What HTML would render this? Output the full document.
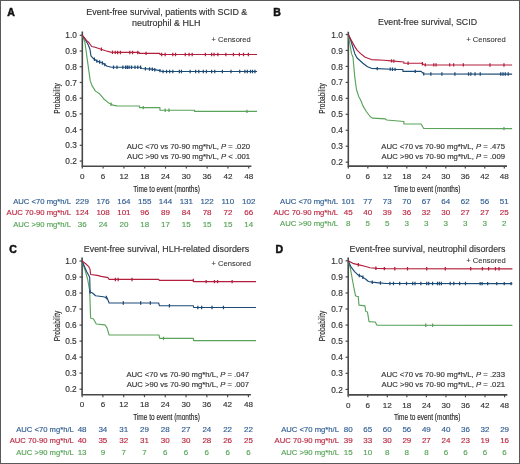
<!DOCTYPE html>
<html><head><meta charset="utf-8"><style>
html,body{margin:0;padding:0;background:#fff;}
svg{display:block;font-family:"Liberation Sans", sans-serif;}
#m{will-change:transform;}
#b{position:absolute;left:0;top:0;}
</style></head><body>
<svg id="m" width="520" height="464" viewBox="0 0 520 464">
<rect x="0" y="0" width="520" height="464" fill="#fff"/>
<path d="M82.30 31.50V166.20H251.40" fill="none" stroke="#484848" stroke-width="1.6"/>
<line x1="79.70" y1="161.06" x2="82.30" y2="161.06" stroke="#484848" stroke-width="1.2"/>
<text stroke="#333" stroke-width="0.15" x="76.90" y="164.16" text-anchor="end" font-size="8.3" fill="#333">0.2</text>
<line x1="79.70" y1="145.34" x2="82.30" y2="145.34" stroke="#484848" stroke-width="1.2"/>
<text stroke="#333" stroke-width="0.15" x="76.90" y="148.44" text-anchor="end" font-size="8.3" fill="#333">0.3</text>
<line x1="79.70" y1="129.62" x2="82.30" y2="129.62" stroke="#484848" stroke-width="1.2"/>
<text stroke="#333" stroke-width="0.15" x="76.90" y="132.72" text-anchor="end" font-size="8.3" fill="#333">0.4</text>
<line x1="79.70" y1="113.90" x2="82.30" y2="113.90" stroke="#484848" stroke-width="1.2"/>
<text stroke="#333" stroke-width="0.15" x="76.90" y="117.00" text-anchor="end" font-size="8.3" fill="#333">0.5</text>
<line x1="79.70" y1="98.18" x2="82.30" y2="98.18" stroke="#484848" stroke-width="1.2"/>
<text stroke="#333" stroke-width="0.15" x="76.90" y="101.28" text-anchor="end" font-size="8.3" fill="#333">0.6</text>
<line x1="79.70" y1="82.46" x2="82.30" y2="82.46" stroke="#484848" stroke-width="1.2"/>
<text stroke="#333" stroke-width="0.15" x="76.90" y="85.56" text-anchor="end" font-size="8.3" fill="#333">0.7</text>
<line x1="79.70" y1="66.74" x2="82.30" y2="66.74" stroke="#484848" stroke-width="1.2"/>
<text stroke="#333" stroke-width="0.15" x="76.90" y="69.84" text-anchor="end" font-size="8.3" fill="#333">0.8</text>
<line x1="79.70" y1="51.02" x2="82.30" y2="51.02" stroke="#484848" stroke-width="1.2"/>
<text stroke="#333" stroke-width="0.15" x="76.90" y="54.12" text-anchor="end" font-size="8.3" fill="#333">0.9</text>
<line x1="79.70" y1="35.30" x2="82.30" y2="35.30" stroke="#484848" stroke-width="1.2"/>
<text stroke="#333" stroke-width="0.15" x="76.90" y="38.40" text-anchor="end" font-size="8.3" fill="#333">1.0</text>
<line x1="82.30" y1="166.20" x2="82.30" y2="168.60" stroke="#484848" stroke-width="1.2"/>
<text stroke="#333" stroke-width="0.15" x="82.30" y="178.80" text-anchor="middle" font-size="8.1" fill="#333">0</text>
<line x1="103.10" y1="166.20" x2="103.10" y2="168.60" stroke="#484848" stroke-width="1.2"/>
<text stroke="#333" stroke-width="0.15" x="103.10" y="178.80" text-anchor="middle" font-size="8.1" fill="#333">6</text>
<line x1="123.90" y1="166.20" x2="123.90" y2="168.60" stroke="#484848" stroke-width="1.2"/>
<text stroke="#333" stroke-width="0.15" x="123.90" y="178.80" text-anchor="middle" font-size="8.1" fill="#333">12</text>
<line x1="144.71" y1="166.20" x2="144.71" y2="168.60" stroke="#484848" stroke-width="1.2"/>
<text stroke="#333" stroke-width="0.15" x="144.71" y="178.80" text-anchor="middle" font-size="8.1" fill="#333">18</text>
<line x1="165.51" y1="166.20" x2="165.51" y2="168.60" stroke="#484848" stroke-width="1.2"/>
<text stroke="#333" stroke-width="0.15" x="165.51" y="178.80" text-anchor="middle" font-size="8.1" fill="#333">24</text>
<line x1="186.31" y1="166.20" x2="186.31" y2="168.60" stroke="#484848" stroke-width="1.2"/>
<text stroke="#333" stroke-width="0.15" x="186.31" y="178.80" text-anchor="middle" font-size="8.1" fill="#333">30</text>
<line x1="207.11" y1="166.20" x2="207.11" y2="168.60" stroke="#484848" stroke-width="1.2"/>
<text stroke="#333" stroke-width="0.15" x="207.11" y="178.80" text-anchor="middle" font-size="8.1" fill="#333">36</text>
<line x1="227.91" y1="166.20" x2="227.91" y2="168.60" stroke="#484848" stroke-width="1.2"/>
<text stroke="#333" stroke-width="0.15" x="227.91" y="178.80" text-anchor="middle" font-size="8.1" fill="#333">42</text>
<line x1="248.72" y1="166.20" x2="248.72" y2="168.60" stroke="#484848" stroke-width="1.2"/>
<text stroke="#333" stroke-width="0.15" x="248.72" y="178.80" text-anchor="middle" font-size="8.1" fill="#333">48</text>
<text stroke="#111" stroke-width="0.5" x="7.2" y="15.6" font-size="10.5" font-weight="bold" fill="#111">A</text>
<text stroke="#333" stroke-width="0.15" x="166.8" y="14.8" text-anchor="middle" font-size="9" fill="#333" textLength="161" lengthAdjust="spacingAndGlyphs">Event-free survival, patients with SCID &</text>
<text stroke="#333" stroke-width="0.15" x="166.2" y="25.6" text-anchor="middle" font-size="9" fill="#333" textLength="68.5" lengthAdjust="spacingAndGlyphs">neutrophil &amp; HLH</text>
<text stroke="#333" stroke-width="0.08" x="211.6" y="41.6" font-size="8.0" fill="#333" textLength="39.1" lengthAdjust="spacingAndGlyphs">+ Censored</text>
<text stroke="#333" stroke-width="0.15" x="126.7" y="148.6" font-size="7.75" fill="#333" textLength="123.30" lengthAdjust="spacingAndGlyphs">AUC &lt;70 vs 70-90 mg*h/L, <tspan font-style="italic">P</tspan> = .020</text>
<text stroke="#333" stroke-width="0.15" x="127.0" y="158.8" font-size="7.75" fill="#333" textLength="123.00" lengthAdjust="spacingAndGlyphs">AUC &gt;90 vs 70-90 mg*h/L, <tspan font-style="italic">P</tspan> &lt; .001</text>
<text stroke="#222" stroke-width="0.14" x="166.6" y="191.7" text-anchor="middle" font-size="9.6" fill="#222" textLength="66.5" lengthAdjust="spacingAndGlyphs">Time to event (months)</text>
<text stroke="#222" stroke-width="0.14" transform="translate(59.5 98.5) rotate(-90)" x="0" y="0" text-anchor="middle" font-size="8.8" fill="#222" textLength="30.5" lengthAdjust="spacingAndGlyphs">Probability</text>
<text stroke="#2e5c92" stroke-width="0.15" x="13.15" y="203.5" font-size="8.0" fill="#2e5c92" textLength="57.85" lengthAdjust="spacingAndGlyphs">AUC &lt;70 mg*h/L</text>
<text stroke="#2e5c92" stroke-width="0.15" x="82.30" y="203.5" text-anchor="middle" font-size="8.0" fill="#2e5c92">229</text>
<text stroke="#2e5c92" stroke-width="0.15" x="103.10" y="203.5" text-anchor="middle" font-size="8.0" fill="#2e5c92">176</text>
<text stroke="#2e5c92" stroke-width="0.15" x="123.90" y="203.5" text-anchor="middle" font-size="8.0" fill="#2e5c92">164</text>
<text stroke="#2e5c92" stroke-width="0.15" x="144.71" y="203.5" text-anchor="middle" font-size="8.0" fill="#2e5c92">155</text>
<text stroke="#2e5c92" stroke-width="0.15" x="165.51" y="203.5" text-anchor="middle" font-size="8.0" fill="#2e5c92">144</text>
<text stroke="#2e5c92" stroke-width="0.15" x="186.31" y="203.5" text-anchor="middle" font-size="8.0" fill="#2e5c92">131</text>
<text stroke="#2e5c92" stroke-width="0.15" x="207.11" y="203.5" text-anchor="middle" font-size="8.0" fill="#2e5c92">122</text>
<text stroke="#2e5c92" stroke-width="0.15" x="227.91" y="203.5" text-anchor="middle" font-size="8.0" fill="#2e5c92">110</text>
<text stroke="#2e5c92" stroke-width="0.15" x="248.72" y="203.5" text-anchor="middle" font-size="8.0" fill="#2e5c92">102</text>
<text stroke="#bb2640" stroke-width="0.15" x="6.56" y="215.0" font-size="8.0" fill="#bb2640" textLength="64.44" lengthAdjust="spacingAndGlyphs">AUC 70-90 mg*h/L</text>
<text stroke="#bb2640" stroke-width="0.15" x="82.30" y="215.0" text-anchor="middle" font-size="8.0" fill="#bb2640">124</text>
<text stroke="#bb2640" stroke-width="0.15" x="103.10" y="215.0" text-anchor="middle" font-size="8.0" fill="#bb2640">108</text>
<text stroke="#bb2640" stroke-width="0.15" x="123.90" y="215.0" text-anchor="middle" font-size="8.0" fill="#bb2640">101</text>
<text stroke="#bb2640" stroke-width="0.15" x="144.71" y="215.0" text-anchor="middle" font-size="8.0" fill="#bb2640">96</text>
<text stroke="#bb2640" stroke-width="0.15" x="165.51" y="215.0" text-anchor="middle" font-size="8.0" fill="#bb2640">89</text>
<text stroke="#bb2640" stroke-width="0.15" x="186.31" y="215.0" text-anchor="middle" font-size="8.0" fill="#bb2640">84</text>
<text stroke="#bb2640" stroke-width="0.15" x="207.11" y="215.0" text-anchor="middle" font-size="8.0" fill="#bb2640">78</text>
<text stroke="#bb2640" stroke-width="0.15" x="227.91" y="215.0" text-anchor="middle" font-size="8.0" fill="#bb2640">72</text>
<text stroke="#bb2640" stroke-width="0.15" x="248.72" y="215.0" text-anchor="middle" font-size="8.0" fill="#bb2640">66</text>
<text stroke="#55a355" stroke-width="0.15" x="13.15" y="226.5" font-size="8.0" fill="#55a355" textLength="57.85" lengthAdjust="spacingAndGlyphs">AUC &gt;90 mg*h/L</text>
<text stroke="#55a355" stroke-width="0.15" x="82.30" y="226.5" text-anchor="middle" font-size="8.0" fill="#55a355">36</text>
<text stroke="#55a355" stroke-width="0.15" x="103.10" y="226.5" text-anchor="middle" font-size="8.0" fill="#55a355">24</text>
<text stroke="#55a355" stroke-width="0.15" x="123.90" y="226.5" text-anchor="middle" font-size="8.0" fill="#55a355">20</text>
<text stroke="#55a355" stroke-width="0.15" x="144.71" y="226.5" text-anchor="middle" font-size="8.0" fill="#55a355">18</text>
<text stroke="#55a355" stroke-width="0.15" x="165.51" y="226.5" text-anchor="middle" font-size="8.0" fill="#55a355">17</text>
<text stroke="#55a355" stroke-width="0.15" x="186.31" y="226.5" text-anchor="middle" font-size="8.0" fill="#55a355">15</text>
<text stroke="#55a355" stroke-width="0.15" x="207.11" y="226.5" text-anchor="middle" font-size="8.0" fill="#55a355">15</text>
<text stroke="#55a355" stroke-width="0.15" x="227.91" y="226.5" text-anchor="middle" font-size="8.0" fill="#55a355">15</text>
<text stroke="#55a355" stroke-width="0.15" x="248.72" y="226.5" text-anchor="middle" font-size="8.0" fill="#55a355">14</text>
<path d="M82.30 35.30 L84.90 42.22 L87.50 61.08 L90.27 80.89 L92.01 85.60 L95.47 91.11 L99.63 93.78 L103.80 98.97 L108.65 102.90 L112.81 105.10 L116.97 105.88 L139.51 106.04 L139.51 107.61 L159.96 107.61 L159.96 110.28 L194.63 110.28 L194.63 111.38 L257.04 111.38" fill="none" stroke="#5aa35a" stroke-width="1.15" stroke-linejoin="round"/>
<path d="M111.08 102.48V105.88M143.32 105.91V109.31M165.16 108.58V111.98M168.97 108.58V111.98M246.98 109.68V113.08" stroke="#5aa35a" stroke-width="1.25" fill="none"/>
<path d="M82.30 35.30 L85.77 40.49 L88.19 44.73 L89.93 48.98 L90.97 55.89 L93.39 58.57 L96.86 61.08 L102.06 62.81 L107.26 66.27 L111.77 67.21 L140.89 67.21 L141.24 68.47 L151.64 69.10 L159.96 70.67 L162.04 71.46 L257.04 71.46" fill="none" stroke="#1c4a76" stroke-width="1.15" stroke-linejoin="round"/>
<path d="M94.43 57.62V61.02M96.86 59.38V62.78M99.63 60.30V63.70M102.41 61.34V64.74M104.84 62.95V66.35M113.50 65.51V68.91M116.97 65.51V68.91M122.86 65.51V68.91M125.64 65.51V68.91M127.37 65.51V68.91M129.10 65.51V68.91M131.53 65.51V68.91M135.00 65.51V68.91M137.77 65.51V68.91M140.55 65.51V68.91M145.40 67.02V70.42M149.56 67.27V70.67M152.33 67.53V70.93M154.76 67.99V71.39M159.96 68.97V72.37M163.08 69.76V73.16M166.55 69.76V73.16M169.67 69.76V73.16M172.79 69.76V73.16M179.38 69.76V73.16M181.46 69.76V73.16M190.12 69.76V73.16M195.67 69.76V73.16M198.79 69.76V73.16M203.30 69.76V73.16M206.42 69.76V73.16M211.62 69.76V73.16M214.74 69.76V73.16M222.37 69.76V73.16M231.03 69.76V73.16M239.70 69.76V73.16M244.90 69.76V73.16M247.33 69.76V73.16M250.45 69.76V73.16M252.53 69.76V73.16M254.96 69.76V73.16" stroke="#1c4a76" stroke-width="1.25" fill="none"/>
<path d="M82.30 35.30 L83.69 36.87 L86.46 40.33 L89.23 43.00 L91.66 46.46 L95.13 47.25 L100.33 48.98 L105.53 50.71 L110.73 52.12 L116.97 52.43 L139.16 52.43 L139.16 53.38 L159.96 53.38 L159.96 54.48 L257.04 54.48" fill="none" stroke="#b41f3d" stroke-width="1.15" stroke-linejoin="round"/>
<path d="M101.37 47.62V51.02M112.46 50.51V53.91M115.24 50.65V54.05M117.66 50.73V54.13M120.44 50.73V54.13M129.80 50.73V54.13M132.57 50.73V54.13M137.77 50.73V54.13M146.09 51.68V55.08M161.69 52.78V56.18M165.16 52.78V56.18M172.79 52.78V56.18M175.56 52.78V56.18M185.27 52.78V56.18M189.08 52.78V56.18M192.20 52.78V56.18M205.38 52.78V56.18M211.62 52.78V56.18M214.05 52.78V56.18M217.86 52.78V56.18M225.83 52.78V56.18M233.46 52.78V56.18M239.36 52.78V56.18M243.52 52.78V56.18M248.37 52.78V56.18" stroke="#b41f3d" stroke-width="1.25" fill="none"/>
<path d="M348.30 31.70V166.10H507.00" fill="none" stroke="#484848" stroke-width="1.6"/>
<line x1="345.70" y1="162.18" x2="348.30" y2="162.18" stroke="#484848" stroke-width="1.2"/>
<text stroke="#333" stroke-width="0.15" x="342.90" y="165.28" text-anchor="end" font-size="8.3" fill="#333">0.2</text>
<line x1="345.70" y1="146.22" x2="348.30" y2="146.22" stroke="#484848" stroke-width="1.2"/>
<text stroke="#333" stroke-width="0.15" x="342.90" y="149.32" text-anchor="end" font-size="8.3" fill="#333">0.3</text>
<line x1="345.70" y1="130.26" x2="348.30" y2="130.26" stroke="#484848" stroke-width="1.2"/>
<text stroke="#333" stroke-width="0.15" x="342.90" y="133.36" text-anchor="end" font-size="8.3" fill="#333">0.4</text>
<line x1="345.70" y1="114.30" x2="348.30" y2="114.30" stroke="#484848" stroke-width="1.2"/>
<text stroke="#333" stroke-width="0.15" x="342.90" y="117.40" text-anchor="end" font-size="8.3" fill="#333">0.5</text>
<line x1="345.70" y1="98.34" x2="348.30" y2="98.34" stroke="#484848" stroke-width="1.2"/>
<text stroke="#333" stroke-width="0.15" x="342.90" y="101.44" text-anchor="end" font-size="8.3" fill="#333">0.6</text>
<line x1="345.70" y1="82.38" x2="348.30" y2="82.38" stroke="#484848" stroke-width="1.2"/>
<text stroke="#333" stroke-width="0.15" x="342.90" y="85.48" text-anchor="end" font-size="8.3" fill="#333">0.7</text>
<line x1="345.70" y1="66.42" x2="348.30" y2="66.42" stroke="#484848" stroke-width="1.2"/>
<text stroke="#333" stroke-width="0.15" x="342.90" y="69.52" text-anchor="end" font-size="8.3" fill="#333">0.8</text>
<line x1="345.70" y1="50.46" x2="348.30" y2="50.46" stroke="#484848" stroke-width="1.2"/>
<text stroke="#333" stroke-width="0.15" x="342.90" y="53.56" text-anchor="end" font-size="8.3" fill="#333">0.9</text>
<line x1="345.70" y1="34.50" x2="348.30" y2="34.50" stroke="#484848" stroke-width="1.2"/>
<text stroke="#333" stroke-width="0.15" x="342.90" y="37.60" text-anchor="end" font-size="8.3" fill="#333">1.0</text>
<line x1="348.30" y1="166.10" x2="348.30" y2="168.50" stroke="#484848" stroke-width="1.2"/>
<text stroke="#333" stroke-width="0.15" x="348.30" y="178.70" text-anchor="middle" font-size="8.1" fill="#333">0</text>
<line x1="367.80" y1="166.10" x2="367.80" y2="168.50" stroke="#484848" stroke-width="1.2"/>
<text stroke="#333" stroke-width="0.15" x="367.80" y="178.70" text-anchor="middle" font-size="8.1" fill="#333">6</text>
<line x1="387.30" y1="166.10" x2="387.30" y2="168.50" stroke="#484848" stroke-width="1.2"/>
<text stroke="#333" stroke-width="0.15" x="387.30" y="178.70" text-anchor="middle" font-size="8.1" fill="#333">12</text>
<line x1="406.80" y1="166.10" x2="406.80" y2="168.50" stroke="#484848" stroke-width="1.2"/>
<text stroke="#333" stroke-width="0.15" x="406.80" y="178.70" text-anchor="middle" font-size="8.1" fill="#333">18</text>
<line x1="426.30" y1="166.10" x2="426.30" y2="168.50" stroke="#484848" stroke-width="1.2"/>
<text stroke="#333" stroke-width="0.15" x="426.30" y="178.70" text-anchor="middle" font-size="8.1" fill="#333">24</text>
<line x1="445.80" y1="166.10" x2="445.80" y2="168.50" stroke="#484848" stroke-width="1.2"/>
<text stroke="#333" stroke-width="0.15" x="445.80" y="178.70" text-anchor="middle" font-size="8.1" fill="#333">30</text>
<line x1="465.30" y1="166.10" x2="465.30" y2="168.50" stroke="#484848" stroke-width="1.2"/>
<text stroke="#333" stroke-width="0.15" x="465.30" y="178.70" text-anchor="middle" font-size="8.1" fill="#333">36</text>
<line x1="484.80" y1="166.10" x2="484.80" y2="168.50" stroke="#484848" stroke-width="1.2"/>
<text stroke="#333" stroke-width="0.15" x="484.80" y="178.70" text-anchor="middle" font-size="8.1" fill="#333">42</text>
<line x1="504.30" y1="166.10" x2="504.30" y2="168.50" stroke="#484848" stroke-width="1.2"/>
<text stroke="#333" stroke-width="0.15" x="504.30" y="178.70" text-anchor="middle" font-size="8.1" fill="#333">48</text>
<text stroke="#111" stroke-width="0.5" x="273.2" y="15.8" font-size="10.5" font-weight="bold" fill="#111">B</text>
<text stroke="#333" stroke-width="0.15" x="427.5" y="25.4" text-anchor="middle" font-size="9" fill="#333" textLength="99" lengthAdjust="spacingAndGlyphs">Event-free survival, SCID</text>
<text stroke="#333" stroke-width="0.08" x="466.2" y="41.5" font-size="8.0" fill="#333" textLength="39.6" lengthAdjust="spacingAndGlyphs">+ Censored</text>
<text stroke="#333" stroke-width="0.15" x="381.3" y="148.6" font-size="7.75" fill="#333" textLength="123.70" lengthAdjust="spacingAndGlyphs">AUC &lt;70 vs 70-90 mg*h/L, <tspan font-style="italic">P</tspan> = .475</text>
<text stroke="#333" stroke-width="0.15" x="381.6" y="158.8" font-size="7.75" fill="#333" textLength="123.40" lengthAdjust="spacingAndGlyphs">AUC &gt;90 vs 70-90 mg*h/L, <tspan font-style="italic">P</tspan> = .009</text>
<text stroke="#222" stroke-width="0.14" x="427.1" y="191.7" text-anchor="middle" font-size="9.6" fill="#222" textLength="66.6" lengthAdjust="spacingAndGlyphs">Time to event (months)</text>
<text stroke="#222" stroke-width="0.14" transform="translate(325.2 98.5) rotate(-90)" x="0" y="0" text-anchor="middle" font-size="8.8" fill="#222" textLength="30.5" lengthAdjust="spacingAndGlyphs">Probability</text>
<text stroke="#2e5c92" stroke-width="0.15" x="280.00" y="203.5" font-size="8.0" fill="#2e5c92" textLength="58.10" lengthAdjust="spacingAndGlyphs">AUC &lt;70 mg*h/L</text>
<text stroke="#2e5c92" stroke-width="0.15" x="348.30" y="203.5" text-anchor="middle" font-size="8.0" fill="#2e5c92">101</text>
<text stroke="#2e5c92" stroke-width="0.15" x="367.80" y="203.5" text-anchor="middle" font-size="8.0" fill="#2e5c92">77</text>
<text stroke="#2e5c92" stroke-width="0.15" x="387.30" y="203.5" text-anchor="middle" font-size="8.0" fill="#2e5c92">73</text>
<text stroke="#2e5c92" stroke-width="0.15" x="406.80" y="203.5" text-anchor="middle" font-size="8.0" fill="#2e5c92">70</text>
<text stroke="#2e5c92" stroke-width="0.15" x="426.30" y="203.5" text-anchor="middle" font-size="8.0" fill="#2e5c92">67</text>
<text stroke="#2e5c92" stroke-width="0.15" x="445.80" y="203.5" text-anchor="middle" font-size="8.0" fill="#2e5c92">64</text>
<text stroke="#2e5c92" stroke-width="0.15" x="465.30" y="203.5" text-anchor="middle" font-size="8.0" fill="#2e5c92">62</text>
<text stroke="#2e5c92" stroke-width="0.15" x="484.80" y="203.5" text-anchor="middle" font-size="8.0" fill="#2e5c92">56</text>
<text stroke="#2e5c92" stroke-width="0.15" x="504.30" y="203.5" text-anchor="middle" font-size="8.0" fill="#2e5c92">51</text>
<text stroke="#bb2640" stroke-width="0.15" x="273.38" y="214.8" font-size="8.0" fill="#bb2640" textLength="64.72" lengthAdjust="spacingAndGlyphs">AUC 70-90 mg*h/L</text>
<text stroke="#bb2640" stroke-width="0.15" x="348.30" y="214.8" text-anchor="middle" font-size="8.0" fill="#bb2640">45</text>
<text stroke="#bb2640" stroke-width="0.15" x="367.80" y="214.8" text-anchor="middle" font-size="8.0" fill="#bb2640">40</text>
<text stroke="#bb2640" stroke-width="0.15" x="387.30" y="214.8" text-anchor="middle" font-size="8.0" fill="#bb2640">39</text>
<text stroke="#bb2640" stroke-width="0.15" x="406.80" y="214.8" text-anchor="middle" font-size="8.0" fill="#bb2640">36</text>
<text stroke="#bb2640" stroke-width="0.15" x="426.30" y="214.8" text-anchor="middle" font-size="8.0" fill="#bb2640">32</text>
<text stroke="#bb2640" stroke-width="0.15" x="445.80" y="214.8" text-anchor="middle" font-size="8.0" fill="#bb2640">30</text>
<text stroke="#bb2640" stroke-width="0.15" x="465.30" y="214.8" text-anchor="middle" font-size="8.0" fill="#bb2640">27</text>
<text stroke="#bb2640" stroke-width="0.15" x="484.80" y="214.8" text-anchor="middle" font-size="8.0" fill="#bb2640">27</text>
<text stroke="#bb2640" stroke-width="0.15" x="504.30" y="214.8" text-anchor="middle" font-size="8.0" fill="#bb2640">25</text>
<text stroke="#55a355" stroke-width="0.15" x="280.00" y="226.3" font-size="8.0" fill="#55a355" textLength="58.10" lengthAdjust="spacingAndGlyphs">AUC &gt;90 mg*h/L</text>
<text stroke="#55a355" stroke-width="0.15" x="348.30" y="226.3" text-anchor="middle" font-size="8.0" fill="#55a355">8</text>
<text stroke="#55a355" stroke-width="0.15" x="367.80" y="226.3" text-anchor="middle" font-size="8.0" fill="#55a355">5</text>
<text stroke="#55a355" stroke-width="0.15" x="387.30" y="226.3" text-anchor="middle" font-size="8.0" fill="#55a355">5</text>
<text stroke="#55a355" stroke-width="0.15" x="406.80" y="226.3" text-anchor="middle" font-size="8.0" fill="#55a355">3</text>
<text stroke="#55a355" stroke-width="0.15" x="426.30" y="226.3" text-anchor="middle" font-size="8.0" fill="#55a355">3</text>
<text stroke="#55a355" stroke-width="0.15" x="445.80" y="226.3" text-anchor="middle" font-size="8.0" fill="#55a355">3</text>
<text stroke="#55a355" stroke-width="0.15" x="465.30" y="226.3" text-anchor="middle" font-size="8.0" fill="#55a355">3</text>
<text stroke="#55a355" stroke-width="0.15" x="484.80" y="226.3" text-anchor="middle" font-size="8.0" fill="#55a355">3</text>
<text stroke="#55a355" stroke-width="0.15" x="504.30" y="226.3" text-anchor="middle" font-size="8.0" fill="#55a355">2</text>
<path d="M348.30 34.50 L349.93 44.24 L351.55 53.65 L353.01 57.32 L354.80 77.43 L356.43 89.24 L358.70 96.42 L360.65 99.94 L362.93 105.84 L366.50 111.75 L370.07 116.53 L372.35 118.13 L385.35 118.93 L386.65 120.05 L403.88 121.48 L403.88 124.04 L421.10 124.04 L423.70 128.50 L512.10 128.66" fill="none" stroke="#5aa35a" stroke-width="1.15" stroke-linejoin="round"/>
<path d="M503.98 126.95V130.35" stroke="#5aa35a" stroke-width="1.25" fill="none"/>
<path d="M348.30 34.50 L350.90 40.72 L354.80 53.65 L357.07 57.96 L362.93 63.23 L367.48 66.74 L371.38 68.34 L397.05 69.45 L402.90 69.45 L402.90 71.37 L421.10 71.37 L423.70 73.92 L512.10 74.08" fill="none" stroke="#1c4a76" stroke-width="1.15" stroke-linejoin="round"/>
<path d="M377.23 66.89V70.29M390.23 67.46V70.86M392.50 67.55V70.95M395.10 67.67V71.07M415.25 69.67V73.07M423.70 72.22V75.62M430.85 72.23V75.63M441.90 72.25V75.65M454.90 72.28V75.68M468.55 72.30V75.70M470.83 72.31V75.71M475.05 72.31V75.71M480.25 72.32V75.72M500.73 72.36V75.76M503.00 72.36V75.76M505.27 72.37V75.77M508.20 72.37V75.77" stroke="#1c4a76" stroke-width="1.25" fill="none"/>
<path d="M348.30 34.50 L350.90 39.45 L354.80 46.63 L357.07 50.14 L360.65 53.65 L365.20 57.32 L371.38 59.56 L384.05 60.20 L390.88 60.83 L403.88 61.95 L403.88 63.23 L421.43 63.23 L424.35 64.82 L512.10 64.98" fill="none" stroke="#b41f3d" stroke-width="1.15" stroke-linejoin="round"/>
<path d="M391.53 59.19V62.59M393.80 59.39V62.79M408.10 61.53V64.93M422.40 62.06V65.46M425.32 63.13V66.53M433.78 63.14V66.54M436.05 63.15V66.55M449.70 63.17V66.57M453.60 63.18V66.58M463.35 63.19V66.59M490.00 63.24V66.64M503.98 63.27V66.67" stroke="#b41f3d" stroke-width="1.25" fill="none"/>
<path d="M82.10 257.60V394.80H250.90" fill="none" stroke="#484848" stroke-width="1.6"/>
<line x1="79.50" y1="389.20" x2="82.10" y2="389.20" stroke="#484848" stroke-width="1.2"/>
<text stroke="#333" stroke-width="0.15" x="76.70" y="392.30" text-anchor="end" font-size="8.3" fill="#333">0.2</text>
<line x1="79.50" y1="373.18" x2="82.10" y2="373.18" stroke="#484848" stroke-width="1.2"/>
<text stroke="#333" stroke-width="0.15" x="76.70" y="376.28" text-anchor="end" font-size="8.3" fill="#333">0.3</text>
<line x1="79.50" y1="357.15" x2="82.10" y2="357.15" stroke="#484848" stroke-width="1.2"/>
<text stroke="#333" stroke-width="0.15" x="76.70" y="360.25" text-anchor="end" font-size="8.3" fill="#333">0.4</text>
<line x1="79.50" y1="341.12" x2="82.10" y2="341.12" stroke="#484848" stroke-width="1.2"/>
<text stroke="#333" stroke-width="0.15" x="76.70" y="344.23" text-anchor="end" font-size="8.3" fill="#333">0.5</text>
<line x1="79.50" y1="325.10" x2="82.10" y2="325.10" stroke="#484848" stroke-width="1.2"/>
<text stroke="#333" stroke-width="0.15" x="76.70" y="328.20" text-anchor="end" font-size="8.3" fill="#333">0.6</text>
<line x1="79.50" y1="309.07" x2="82.10" y2="309.07" stroke="#484848" stroke-width="1.2"/>
<text stroke="#333" stroke-width="0.15" x="76.70" y="312.18" text-anchor="end" font-size="8.3" fill="#333">0.7</text>
<line x1="79.50" y1="293.05" x2="82.10" y2="293.05" stroke="#484848" stroke-width="1.2"/>
<text stroke="#333" stroke-width="0.15" x="76.70" y="296.15" text-anchor="end" font-size="8.3" fill="#333">0.8</text>
<line x1="79.50" y1="277.02" x2="82.10" y2="277.02" stroke="#484848" stroke-width="1.2"/>
<text stroke="#333" stroke-width="0.15" x="76.70" y="280.12" text-anchor="end" font-size="8.3" fill="#333">0.9</text>
<line x1="79.50" y1="261.00" x2="82.10" y2="261.00" stroke="#484848" stroke-width="1.2"/>
<text stroke="#333" stroke-width="0.15" x="76.70" y="264.10" text-anchor="end" font-size="8.3" fill="#333">1.0</text>
<line x1="82.10" y1="394.80" x2="82.10" y2="397.20" stroke="#484848" stroke-width="1.2"/>
<text stroke="#333" stroke-width="0.15" x="82.10" y="407.40" text-anchor="middle" font-size="8.1" fill="#333">0</text>
<line x1="102.89" y1="394.80" x2="102.89" y2="397.20" stroke="#484848" stroke-width="1.2"/>
<text stroke="#333" stroke-width="0.15" x="102.89" y="407.40" text-anchor="middle" font-size="8.1" fill="#333">6</text>
<line x1="123.68" y1="394.80" x2="123.68" y2="397.20" stroke="#484848" stroke-width="1.2"/>
<text stroke="#333" stroke-width="0.15" x="123.68" y="407.40" text-anchor="middle" font-size="8.1" fill="#333">12</text>
<line x1="144.47" y1="394.80" x2="144.47" y2="397.20" stroke="#484848" stroke-width="1.2"/>
<text stroke="#333" stroke-width="0.15" x="144.47" y="407.40" text-anchor="middle" font-size="8.1" fill="#333">18</text>
<line x1="165.26" y1="394.80" x2="165.26" y2="397.20" stroke="#484848" stroke-width="1.2"/>
<text stroke="#333" stroke-width="0.15" x="165.26" y="407.40" text-anchor="middle" font-size="8.1" fill="#333">24</text>
<line x1="186.05" y1="394.80" x2="186.05" y2="397.20" stroke="#484848" stroke-width="1.2"/>
<text stroke="#333" stroke-width="0.15" x="186.05" y="407.40" text-anchor="middle" font-size="8.1" fill="#333">30</text>
<line x1="206.84" y1="394.80" x2="206.84" y2="397.20" stroke="#484848" stroke-width="1.2"/>
<text stroke="#333" stroke-width="0.15" x="206.84" y="407.40" text-anchor="middle" font-size="8.1" fill="#333">36</text>
<line x1="227.63" y1="394.80" x2="227.63" y2="397.20" stroke="#484848" stroke-width="1.2"/>
<text stroke="#333" stroke-width="0.15" x="227.63" y="407.40" text-anchor="middle" font-size="8.1" fill="#333">42</text>
<line x1="248.42" y1="394.80" x2="248.42" y2="397.20" stroke="#484848" stroke-width="1.2"/>
<text stroke="#333" stroke-width="0.15" x="248.42" y="407.40" text-anchor="middle" font-size="8.1" fill="#333">48</text>
<text stroke="#111" stroke-width="0.5" x="9.3" y="253.2" font-size="10.5" font-weight="bold" fill="#111">C</text>
<text stroke="#333" stroke-width="0.15" x="166.5" y="251.6" text-anchor="middle" font-size="9" fill="#333" textLength="165.4" lengthAdjust="spacingAndGlyphs">Event-free survival, HLH-related disorders</text>
<text stroke="#333" stroke-width="0.08" x="211.5" y="265.5" font-size="8.0" fill="#333" textLength="39.5" lengthAdjust="spacingAndGlyphs">+ Censored</text>
<text stroke="#333" stroke-width="0.15" x="126.4" y="376.8" font-size="7.75" fill="#333" textLength="122.70" lengthAdjust="spacingAndGlyphs">AUC &lt;70 vs 70-90 mg*h/L, <tspan font-style="italic">P</tspan> = .047</text>
<text stroke="#333" stroke-width="0.15" x="126.7" y="387.2" font-size="7.75" fill="#333" textLength="122.40" lengthAdjust="spacingAndGlyphs">AUC &gt;90 vs 70-90 mg*h/L, <tspan font-style="italic">P</tspan> = .007</text>
<text stroke="#222" stroke-width="0.14" x="166.5" y="420.0" text-anchor="middle" font-size="9.6" fill="#222" textLength="66.7" lengthAdjust="spacingAndGlyphs">Time to event (months)</text>
<text stroke="#222" stroke-width="0.14" transform="translate(59.5 326.0) rotate(-90)" x="0" y="0" text-anchor="middle" font-size="8.8" fill="#222" textLength="30.5" lengthAdjust="spacingAndGlyphs">Probability</text>
<text stroke="#2e5c92" stroke-width="0.15" x="16.25" y="432.0" font-size="8.0" fill="#2e5c92" textLength="57.55" lengthAdjust="spacingAndGlyphs">AUC &lt;70 mg*h/L</text>
<text stroke="#2e5c92" stroke-width="0.15" x="82.10" y="432.0" text-anchor="middle" font-size="8.0" fill="#2e5c92">48</text>
<text stroke="#2e5c92" stroke-width="0.15" x="102.89" y="432.0" text-anchor="middle" font-size="8.0" fill="#2e5c92">34</text>
<text stroke="#2e5c92" stroke-width="0.15" x="123.68" y="432.0" text-anchor="middle" font-size="8.0" fill="#2e5c92">31</text>
<text stroke="#2e5c92" stroke-width="0.15" x="144.47" y="432.0" text-anchor="middle" font-size="8.0" fill="#2e5c92">29</text>
<text stroke="#2e5c92" stroke-width="0.15" x="165.26" y="432.0" text-anchor="middle" font-size="8.0" fill="#2e5c92">28</text>
<text stroke="#2e5c92" stroke-width="0.15" x="186.05" y="432.0" text-anchor="middle" font-size="8.0" fill="#2e5c92">27</text>
<text stroke="#2e5c92" stroke-width="0.15" x="206.84" y="432.0" text-anchor="middle" font-size="8.0" fill="#2e5c92">24</text>
<text stroke="#2e5c92" stroke-width="0.15" x="227.63" y="432.0" text-anchor="middle" font-size="8.0" fill="#2e5c92">22</text>
<text stroke="#2e5c92" stroke-width="0.15" x="248.42" y="432.0" text-anchor="middle" font-size="8.0" fill="#2e5c92">22</text>
<text stroke="#bb2640" stroke-width="0.15" x="9.69" y="443.3" font-size="8.0" fill="#bb2640" textLength="64.11" lengthAdjust="spacingAndGlyphs">AUC 70-90 mg*h/L</text>
<text stroke="#bb2640" stroke-width="0.15" x="82.10" y="443.3" text-anchor="middle" font-size="8.0" fill="#bb2640">40</text>
<text stroke="#bb2640" stroke-width="0.15" x="102.89" y="443.3" text-anchor="middle" font-size="8.0" fill="#bb2640">35</text>
<text stroke="#bb2640" stroke-width="0.15" x="123.68" y="443.3" text-anchor="middle" font-size="8.0" fill="#bb2640">32</text>
<text stroke="#bb2640" stroke-width="0.15" x="144.47" y="443.3" text-anchor="middle" font-size="8.0" fill="#bb2640">31</text>
<text stroke="#bb2640" stroke-width="0.15" x="165.26" y="443.3" text-anchor="middle" font-size="8.0" fill="#bb2640">30</text>
<text stroke="#bb2640" stroke-width="0.15" x="186.05" y="443.3" text-anchor="middle" font-size="8.0" fill="#bb2640">30</text>
<text stroke="#bb2640" stroke-width="0.15" x="206.84" y="443.3" text-anchor="middle" font-size="8.0" fill="#bb2640">28</text>
<text stroke="#bb2640" stroke-width="0.15" x="227.63" y="443.3" text-anchor="middle" font-size="8.0" fill="#bb2640">26</text>
<text stroke="#bb2640" stroke-width="0.15" x="248.42" y="443.3" text-anchor="middle" font-size="8.0" fill="#bb2640">25</text>
<text stroke="#55a355" stroke-width="0.15" x="16.25" y="454.7" font-size="8.0" fill="#55a355" textLength="57.55" lengthAdjust="spacingAndGlyphs">AUC &gt;90 mg*h/L</text>
<text stroke="#55a355" stroke-width="0.15" x="82.10" y="454.7" text-anchor="middle" font-size="8.0" fill="#55a355">13</text>
<text stroke="#55a355" stroke-width="0.15" x="102.89" y="454.7" text-anchor="middle" font-size="8.0" fill="#55a355">9</text>
<text stroke="#55a355" stroke-width="0.15" x="123.68" y="454.7" text-anchor="middle" font-size="8.0" fill="#55a355">7</text>
<text stroke="#55a355" stroke-width="0.15" x="144.47" y="454.7" text-anchor="middle" font-size="8.0" fill="#55a355">7</text>
<text stroke="#55a355" stroke-width="0.15" x="165.26" y="454.7" text-anchor="middle" font-size="8.0" fill="#55a355">6</text>
<text stroke="#55a355" stroke-width="0.15" x="186.05" y="454.7" text-anchor="middle" font-size="8.0" fill="#55a355">6</text>
<text stroke="#55a355" stroke-width="0.15" x="206.84" y="454.7" text-anchor="middle" font-size="8.0" fill="#55a355">6</text>
<text stroke="#55a355" stroke-width="0.15" x="227.63" y="454.7" text-anchor="middle" font-size="8.0" fill="#55a355">6</text>
<text stroke="#55a355" stroke-width="0.15" x="248.42" y="454.7" text-anchor="middle" font-size="8.0" fill="#55a355">6</text>
<path d="M82.10 261.00 L84.87 269.65 L87.64 279.27 L89.72 290.97 L90.59 318.05 L93.53 319.01 L96.31 323.98 L104.97 324.94 L107.05 327.82 L109.13 335.04 L159.02 335.04 L159.72 338.40 L193.33 338.40 L193.67 340.64 L256.04 340.64" fill="none" stroke="#5aa35a" stroke-width="1.15" stroke-linejoin="round"/>
<path d="M163.53 336.70V340.10" stroke="#5aa35a" stroke-width="1.25" fill="none"/>
<path d="M82.10 261.00 L86.60 271.58 L89.72 277.35 L90.07 291.93 L92.49 293.05 L95.61 295.77 L103.24 296.74 L107.05 297.70 L109.13 302.99 L158.68 302.99 L159.37 305.71 L193.33 305.71 L193.67 307.47 L256.04 307.47" fill="none" stroke="#1c4a76" stroke-width="1.15" stroke-linejoin="round"/>
<path d="M90.07 290.23V293.63M106.35 295.82V299.22M123.33 301.29V304.69M140.66 301.29V304.69M150.36 301.29V304.69M169.42 304.01V307.41M197.83 305.77V309.17M201.64 305.77V309.17M212.04 305.77V309.17M223.47 305.77V309.17" stroke="#1c4a76" stroke-width="1.25" fill="none"/>
<path d="M82.10 261.00 L85.77 263.72 L88.68 266.61 L90.07 269.49 L90.59 274.46 L97.35 275.42 L101.16 276.38 L108.09 277.67 L109.13 279.43 L158.68 279.43 L159.37 280.39 L193.33 280.39 L193.67 281.67 L256.04 281.67" fill="none" stroke="#b41f3d" stroke-width="1.15" stroke-linejoin="round"/>
<path d="M115.36 277.73V281.13M118.14 277.73V281.13M132.00 277.73V281.13M193.33 278.69V282.09M206.15 279.97V283.37M214.46 279.97V283.37M217.58 279.97V283.37M232.13 279.97V283.37" stroke="#b41f3d" stroke-width="1.25" fill="none"/>
<path d="M348.20 257.40V394.90H507.30" fill="none" stroke="#484848" stroke-width="1.6"/>
<line x1="345.60" y1="389.40" x2="348.20" y2="389.40" stroke="#484848" stroke-width="1.2"/>
<text stroke="#333" stroke-width="0.15" x="342.80" y="392.50" text-anchor="end" font-size="8.3" fill="#333">0.2</text>
<line x1="345.60" y1="373.32" x2="348.20" y2="373.32" stroke="#484848" stroke-width="1.2"/>
<text stroke="#333" stroke-width="0.15" x="342.80" y="376.43" text-anchor="end" font-size="8.3" fill="#333">0.3</text>
<line x1="345.60" y1="357.25" x2="348.20" y2="357.25" stroke="#484848" stroke-width="1.2"/>
<text stroke="#333" stroke-width="0.15" x="342.80" y="360.35" text-anchor="end" font-size="8.3" fill="#333">0.4</text>
<line x1="345.60" y1="341.18" x2="348.20" y2="341.18" stroke="#484848" stroke-width="1.2"/>
<text stroke="#333" stroke-width="0.15" x="342.80" y="344.28" text-anchor="end" font-size="8.3" fill="#333">0.5</text>
<line x1="345.60" y1="325.10" x2="348.20" y2="325.10" stroke="#484848" stroke-width="1.2"/>
<text stroke="#333" stroke-width="0.15" x="342.80" y="328.20" text-anchor="end" font-size="8.3" fill="#333">0.6</text>
<line x1="345.60" y1="309.03" x2="348.20" y2="309.03" stroke="#484848" stroke-width="1.2"/>
<text stroke="#333" stroke-width="0.15" x="342.80" y="312.13" text-anchor="end" font-size="8.3" fill="#333">0.7</text>
<line x1="345.60" y1="292.95" x2="348.20" y2="292.95" stroke="#484848" stroke-width="1.2"/>
<text stroke="#333" stroke-width="0.15" x="342.80" y="296.05" text-anchor="end" font-size="8.3" fill="#333">0.8</text>
<line x1="345.60" y1="276.88" x2="348.20" y2="276.88" stroke="#484848" stroke-width="1.2"/>
<text stroke="#333" stroke-width="0.15" x="342.80" y="279.98" text-anchor="end" font-size="8.3" fill="#333">0.9</text>
<line x1="345.60" y1="260.80" x2="348.20" y2="260.80" stroke="#484848" stroke-width="1.2"/>
<text stroke="#333" stroke-width="0.15" x="342.80" y="263.90" text-anchor="end" font-size="8.3" fill="#333">1.0</text>
<line x1="348.20" y1="394.90" x2="348.20" y2="397.30" stroke="#484848" stroke-width="1.2"/>
<text stroke="#333" stroke-width="0.15" x="348.20" y="407.50" text-anchor="middle" font-size="8.1" fill="#333">0</text>
<line x1="367.75" y1="394.90" x2="367.75" y2="397.30" stroke="#484848" stroke-width="1.2"/>
<text stroke="#333" stroke-width="0.15" x="367.75" y="407.50" text-anchor="middle" font-size="8.1" fill="#333">6</text>
<line x1="387.30" y1="394.90" x2="387.30" y2="397.30" stroke="#484848" stroke-width="1.2"/>
<text stroke="#333" stroke-width="0.15" x="387.30" y="407.50" text-anchor="middle" font-size="8.1" fill="#333">12</text>
<line x1="406.84" y1="394.90" x2="406.84" y2="397.30" stroke="#484848" stroke-width="1.2"/>
<text stroke="#333" stroke-width="0.15" x="406.84" y="407.50" text-anchor="middle" font-size="8.1" fill="#333">18</text>
<line x1="426.39" y1="394.90" x2="426.39" y2="397.30" stroke="#484848" stroke-width="1.2"/>
<text stroke="#333" stroke-width="0.15" x="426.39" y="407.50" text-anchor="middle" font-size="8.1" fill="#333">24</text>
<line x1="445.94" y1="394.90" x2="445.94" y2="397.30" stroke="#484848" stroke-width="1.2"/>
<text stroke="#333" stroke-width="0.15" x="445.94" y="407.50" text-anchor="middle" font-size="8.1" fill="#333">30</text>
<line x1="465.49" y1="394.90" x2="465.49" y2="397.30" stroke="#484848" stroke-width="1.2"/>
<text stroke="#333" stroke-width="0.15" x="465.49" y="407.50" text-anchor="middle" font-size="8.1" fill="#333">36</text>
<line x1="485.04" y1="394.90" x2="485.04" y2="397.30" stroke="#484848" stroke-width="1.2"/>
<text stroke="#333" stroke-width="0.15" x="485.04" y="407.50" text-anchor="middle" font-size="8.1" fill="#333">42</text>
<line x1="504.58" y1="394.90" x2="504.58" y2="397.30" stroke="#484848" stroke-width="1.2"/>
<text stroke="#333" stroke-width="0.15" x="504.58" y="407.50" text-anchor="middle" font-size="8.1" fill="#333">48</text>
<text stroke="#111" stroke-width="0.5" x="275.6" y="253.2" font-size="10.5" font-weight="bold" fill="#111">D</text>
<text stroke="#333" stroke-width="0.15" x="427.5" y="252.0" text-anchor="middle" font-size="9" fill="#333" textLength="156" lengthAdjust="spacingAndGlyphs">Event-free survival, neutrophil disorders</text>
<text stroke="#333" stroke-width="0.08" x="466.2" y="262.8" font-size="8.0" fill="#333" textLength="39.6" lengthAdjust="spacingAndGlyphs">+ Censored</text>
<text stroke="#333" stroke-width="0.15" x="381.3" y="376.8" font-size="7.75" fill="#333" textLength="123.70" lengthAdjust="spacingAndGlyphs">AUC &lt;70 vs 70-90 mg*h/L, <tspan font-style="italic">P</tspan> = .233</text>
<text stroke="#333" stroke-width="0.15" x="381.6" y="387.2" font-size="7.75" fill="#333" textLength="123.40" lengthAdjust="spacingAndGlyphs">AUC &gt;90 vs 70-90 mg*h/L, <tspan font-style="italic">P</tspan> = .021</text>
<text stroke="#222" stroke-width="0.14" x="427.2" y="420.0" text-anchor="middle" font-size="9.6" fill="#222" textLength="66.6" lengthAdjust="spacingAndGlyphs">Time to event (months)</text>
<text stroke="#222" stroke-width="0.14" transform="translate(325.2 326.0) rotate(-90)" x="0" y="0" text-anchor="middle" font-size="8.8" fill="#222" textLength="30.5" lengthAdjust="spacingAndGlyphs">Probability</text>
<text stroke="#2e5c92" stroke-width="0.15" x="281.20" y="432.2" font-size="8.0" fill="#2e5c92" textLength="57.80" lengthAdjust="spacingAndGlyphs">AUC &lt;70 mg*h/L</text>
<text stroke="#2e5c92" stroke-width="0.15" x="348.20" y="432.2" text-anchor="middle" font-size="8.0" fill="#2e5c92">80</text>
<text stroke="#2e5c92" stroke-width="0.15" x="367.75" y="432.2" text-anchor="middle" font-size="8.0" fill="#2e5c92">65</text>
<text stroke="#2e5c92" stroke-width="0.15" x="387.30" y="432.2" text-anchor="middle" font-size="8.0" fill="#2e5c92">60</text>
<text stroke="#2e5c92" stroke-width="0.15" x="406.84" y="432.2" text-anchor="middle" font-size="8.0" fill="#2e5c92">56</text>
<text stroke="#2e5c92" stroke-width="0.15" x="426.39" y="432.2" text-anchor="middle" font-size="8.0" fill="#2e5c92">49</text>
<text stroke="#2e5c92" stroke-width="0.15" x="445.94" y="432.2" text-anchor="middle" font-size="8.0" fill="#2e5c92">40</text>
<text stroke="#2e5c92" stroke-width="0.15" x="465.49" y="432.2" text-anchor="middle" font-size="8.0" fill="#2e5c92">36</text>
<text stroke="#2e5c92" stroke-width="0.15" x="485.04" y="432.2" text-anchor="middle" font-size="8.0" fill="#2e5c92">32</text>
<text stroke="#2e5c92" stroke-width="0.15" x="504.58" y="432.2" text-anchor="middle" font-size="8.0" fill="#2e5c92">29</text>
<text stroke="#bb2640" stroke-width="0.15" x="274.61" y="443.4" font-size="8.0" fill="#bb2640" textLength="64.39" lengthAdjust="spacingAndGlyphs">AUC 70-90 mg*h/L</text>
<text stroke="#bb2640" stroke-width="0.15" x="348.20" y="443.4" text-anchor="middle" font-size="8.0" fill="#bb2640">39</text>
<text stroke="#bb2640" stroke-width="0.15" x="367.75" y="443.4" text-anchor="middle" font-size="8.0" fill="#bb2640">33</text>
<text stroke="#bb2640" stroke-width="0.15" x="387.30" y="443.4" text-anchor="middle" font-size="8.0" fill="#bb2640">30</text>
<text stroke="#bb2640" stroke-width="0.15" x="406.84" y="443.4" text-anchor="middle" font-size="8.0" fill="#bb2640">29</text>
<text stroke="#bb2640" stroke-width="0.15" x="426.39" y="443.4" text-anchor="middle" font-size="8.0" fill="#bb2640">27</text>
<text stroke="#bb2640" stroke-width="0.15" x="445.94" y="443.4" text-anchor="middle" font-size="8.0" fill="#bb2640">24</text>
<text stroke="#bb2640" stroke-width="0.15" x="465.49" y="443.4" text-anchor="middle" font-size="8.0" fill="#bb2640">23</text>
<text stroke="#bb2640" stroke-width="0.15" x="485.04" y="443.4" text-anchor="middle" font-size="8.0" fill="#bb2640">19</text>
<text stroke="#bb2640" stroke-width="0.15" x="504.58" y="443.4" text-anchor="middle" font-size="8.0" fill="#bb2640">16</text>
<text stroke="#55a355" stroke-width="0.15" x="281.20" y="454.7" font-size="8.0" fill="#55a355" textLength="57.80" lengthAdjust="spacingAndGlyphs">AUC &gt;90 mg*h/L</text>
<text stroke="#55a355" stroke-width="0.15" x="348.20" y="454.7" text-anchor="middle" font-size="8.0" fill="#55a355">15</text>
<text stroke="#55a355" stroke-width="0.15" x="367.75" y="454.7" text-anchor="middle" font-size="8.0" fill="#55a355">10</text>
<text stroke="#55a355" stroke-width="0.15" x="387.30" y="454.7" text-anchor="middle" font-size="8.0" fill="#55a355">8</text>
<text stroke="#55a355" stroke-width="0.15" x="406.84" y="454.7" text-anchor="middle" font-size="8.0" fill="#55a355">8</text>
<text stroke="#55a355" stroke-width="0.15" x="426.39" y="454.7" text-anchor="middle" font-size="8.0" fill="#55a355">8</text>
<text stroke="#55a355" stroke-width="0.15" x="445.94" y="454.7" text-anchor="middle" font-size="8.0" fill="#55a355">6</text>
<text stroke="#55a355" stroke-width="0.15" x="465.49" y="454.7" text-anchor="middle" font-size="8.0" fill="#55a355">6</text>
<text stroke="#55a355" stroke-width="0.15" x="485.04" y="454.7" text-anchor="middle" font-size="8.0" fill="#55a355">6</text>
<text stroke="#55a355" stroke-width="0.15" x="504.58" y="454.7" text-anchor="middle" font-size="8.0" fill="#55a355">6</text>
<path d="M348.20 260.80 L350.32 268.03 L352.01 277.52 L353.74 287.00 L355.47 295.68 L357.19 296.49 L358.30 296.49 L358.95 305.17 L364.98 305.81 L365.63 311.28 L367.42 311.92 L369.05 321.56 L375.24 322.05 L376.87 325.10 L512.40 325.42" fill="none" stroke="#5aa35a" stroke-width="1.15" stroke-linejoin="round"/>
<path d="M425.74 323.52V326.92M432.58 323.53V326.93" stroke="#5aa35a" stroke-width="1.25" fill="none"/>
<path d="M348.20 260.80 L351.13 267.23 L354.59 271.57 L357.97 274.95 L361.56 276.39 L365.79 279.29 L368.40 281.54 L371.98 282.18 L378.83 282.82 L385.99 283.47 L512.40 283.63" fill="none" stroke="#1c4a76" stroke-width="1.15" stroke-linejoin="round"/>
<path d="M359.28 273.77V277.17M362.86 275.58V278.98M372.31 280.51V283.91M380.45 281.27V284.67M389.90 281.77V285.17M393.49 281.78V285.18M399.68 281.78V285.18M406.52 281.79V285.19M412.71 281.80V285.20M414.99 281.80V285.20M420.85 281.81V285.21M426.72 281.82V285.22M428.67 281.82V285.22M432.58 281.82V285.22M437.47 281.83V285.23M439.42 281.83V285.23M441.38 281.84V285.24M450.18 281.85V285.25M453.76 281.85V285.25M459.62 281.86V285.26M465.49 281.87V285.27M480.15 281.89V285.29M482.10 281.89V285.29M487.64 281.90V285.30M496.76 281.91V285.31M504.26 281.92V285.32M511.10 281.92V285.32" stroke="#1c4a76" stroke-width="1.25" fill="none"/>
<path d="M348.20 260.80 L352.76 263.37 L359.93 265.14 L364.82 266.27 L370.03 267.71 L376.87 268.36 L385.99 268.68 L512.40 268.84" fill="none" stroke="#b41f3d" stroke-width="1.15" stroke-linejoin="round"/>
<path d="M358.30 263.04V266.44M375.89 266.56V269.96M384.36 266.92V270.32M394.79 266.99V270.39M407.50 267.00V270.40M426.72 267.03V270.43M445.29 267.05V270.45M470.70 267.08V270.48M482.43 267.10V270.50M488.62 267.11V270.51M495.46 267.12V270.52M499.05 267.12V270.52" stroke="#b41f3d" stroke-width="1.25" fill="none"/>
</svg>
<svg id="b" width="520" height="464" viewBox="0 0 520 464"><rect x="0.5" y="0.5" width="519" height="463" fill="none" stroke="#5a5a5a" stroke-width="1"/></svg>
</body></html>
